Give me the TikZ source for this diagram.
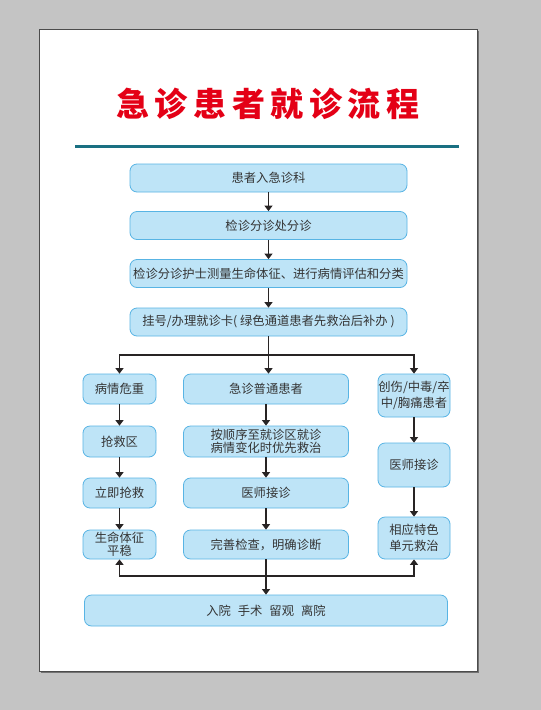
\documentclass[tikz,border=0pt]{standalone}
\usepackage{fontspec}
\setmainfont{Noto Sans CJK SC}
\usepackage{tikz}
\usetikzlibrary{arrows.meta, positioning}
\definecolor{PageGray}{RGB}{196, 196, 196}
\definecolor{TitleRed}{RGB}{228, 0, 22}
\definecolor{RuleTeal}{RGB}{26, 112, 130}
\definecolor{BoxFill}{RGB}{190, 228, 247}
\definecolor{BoxLine}{RGB}{88, 180, 228}
\definecolor{TextGray}{RGB}{52, 52, 52}
\definecolor{FlowLine}{RGB}{40, 36, 36}
\tikzset{
    stepbox/.style={rectangle, rounded corners=7pt, fill=BoxFill, draw=BoxLine, line width=0.8pt,
        text=TextGray, font=\fontsize{12.3}{13.5}\selectfont, align=center, inner sep=0pt},
    flow/.style={draw=FlowLine, line width=1.1pt},
    arr/.style={flow, -{Triangle[length=5.5pt, width=8pt]}}
}

\begin{document}
\begin{tikzpicture}[x=1pt, y=-1pt]
    % page and backdrop
    \fill[PageGray] (0,0) rectangle (541,710);
    \fill[black!55] (41,31) rectangle (479,673);
    \filldraw[fill=white, draw=black!70, line width=0.6pt] (39,29) rectangle (477,671);

    % heading
    \node (title) at (268,104) {\fontsize{33}{35}\selectfont\bfseries\addfontfeatures{LetterSpace=17}\textcolor{TitleRed}{急诊患者就诊流程}};
    \draw[RuleTeal, line width=3pt] (75,146) -- (459,146);

    % main chain
    \node[stepbox, minimum width=277pt, minimum height=28pt] (enter) at (268.5,178) {患者入急诊科};
    \node[stepbox, minimum width=277pt, minimum height=28pt] (triage) at (268.5,225.5) {检诊分诊处分诊};
    \node[stepbox, minimum width=277pt, minimum height=28pt] (assess) at (268.5,273.5) {检诊分诊护士测量生命体征、进行病情评估和分类};
    \node[stepbox, minimum width=277pt, minimum height=28pt] (register) at (268.5,322) {挂号/办理就诊卡( 绿色通道患者先救治后补办 )};

    % left column
    \node[stepbox, minimum width=73pt, minimum height=30pt] (critical) at (119.5,389) {病情危重};
    \node[stepbox, minimum width=73pt, minimum height=31pt] (rescuearea) at (119.5,441.5) {抢救区};
    \node[stepbox, minimum width=73pt, minimum height=30pt] (rescuenow) at (119.5,493) {立即抢救};
    \node[stepbox, minimum width=73pt, minimum height=29pt, font=\fontsize{12.3}{12.5}\selectfont] (stable) at (119.5,544.5) {生命体征\\平稳};

    % middle column
    \node[stepbox, minimum width=165pt, minimum height=30pt] (ordinary) at (266,389) {急诊普通患者};
    \node[stepbox, minimum width=165pt, minimum height=31pt, font=\fontsize{12.3}{13}\selectfont] (queue) at (266,441.5) {按顺序至就诊区就诊\\病情变化时优先救治};
    \node[stepbox, minimum width=165pt, minimum height=30pt] (doctormid) at (266,493) {医师接诊};
    \node[stepbox, minimum width=165pt, minimum height=29pt] (diagnose) at (266,544.5) {完善检查，明确诊断};

    % right column
    \node[stepbox, minimum width=72pt, minimum height=43pt, font=\fontsize{12.3}{16}\selectfont] (trauma) at (414,395.5) {创伤/中毒/卒\\中/胸痛患者};
    \node[stepbox, minimum width=72pt, minimum height=44pt] (doctorright) at (414,465) {医师接诊};
    \node[stepbox, minimum width=72pt, minimum height=42pt, font=\fontsize{12.3}{16}\selectfont] (unit) at (414,538) {相应特色\\单元救治};

    % outcome
    \node[stepbox, minimum width=363pt, minimum height=31pt] (outcome) at (266,610.5) {入院\hspace{7pt}手术\hspace{7pt}留观\hspace{7pt}离院};

    % connectors
    \draw[arr] (enter) -- (triage);
    \draw[arr] (triage) -- (assess);
    \draw[arr] (assess) -- (register);
    \coordinate (fork) at (268.5,355);
    \draw[flow] (register) -- (fork);
    \draw[arr] (fork) -| (critical);
    \draw[arr] (fork) -| (trauma);
    \draw[arr] (fork) -- (fork |- ordinary.north);
    \draw[arr] (critical) -- (rescuearea);
    \draw[arr] (rescuearea) -- (rescuenow);
    \draw[arr] (rescuenow) -- (stable);
    \draw[arr] (ordinary) -- (queue);
    \draw[arr] (queue) -- (doctormid);
    \draw[arr] (doctormid) -- (diagnose);
    \draw[arr] (trauma) -- (doctorright);
    \draw[arr] (doctorright) -- (unit);
    \coordinate (join) at (266,576);
    \draw[arr] (join) -| (stable);
    \draw[arr] (join) -| (unit);
    \draw[arr] (diagnose) -- (outcome);
\end{tikzpicture}
\end{document}
